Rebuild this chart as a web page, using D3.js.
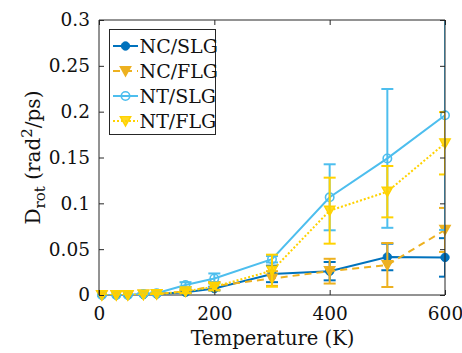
<!DOCTYPE html>
<html><head><meta charset="utf-8">
<script src="https://cdn.jsdelivr.net/npm/d3@7"></script>
<style>body{margin:0;background:#fff}svg{display:block}text{font-family:"DejaVu Serif",serif;fill:#111}</style>
</head><body><svg id="c" width="462" height="353"></svg>
<script>
const temps = [5, 30, 50, 77, 100, 150, 200, 300, 400, 500, 600];
const ncSlg = [0, 0, 0, 0.0005, 0.001, 0.003, 0.007, 0.023, 0.026, 0.0415, 0.041];
const ncSlgErr = [0, 0, 0, 0, 0.001, 0.001, 0.002, 0.009, 0.010, 0.0145, 0.021];
const ncFlg = [0, 0, 0, 0.0005, 0.001, 0.004, 0.0098, 0.018, 0.026, 0.0327, 0.071];
const ncFlgErr = [0, 0, 0, 0, 0.001, 0.002, 0.004, 0.008, 0.0135, 0.024, 0.024];
const ntSlg = [0, 0, 0, 0.001, 0.002, 0.011, 0.018, 0.039, 0.1066, 0.149, 0.196];
const ntSlgErr = [0, 0, 0, 0.001, 0.001, 0.003, 0.0055, 0.0035, 0.036, 0.0757, 0.125];
const ntFlg = [0, 0, 0, 0.0005, 0.001, 0.004, 0.009, 0.0265, 0.092, 0.1127, 0.1655];
const ntFlgErr = [0, 0, 0, 0, 0.001, 0.002, 0.004, 0.0175, 0.036, 0.028, 0.034];
const xTicks = [0, 200, 400, 600];
const yTicks = [0, 0.05, 0.1, 0.15, 0.2, 0.25, 0.3];
const yTickLabels = ["0", "0.05", "0.1", "0.15", "0.2", "0.25", "0.3"];
const seriesNames = ["NC/SLG", "NC/FLG", "NT/SLG", "NT/FLG"];
const seriesColors = ["#0072BD", "#EDB120", "#4DBEEE", "#FFD200"];

const series = [
  {name: seriesNames[0], vals: ncSlg, err: ncSlgErr, color: seriesColors[0], dash: null, marker: "circleFilled"},
  {name: seriesNames[1], vals: ncFlg, err: ncFlgErr, color: seriesColors[1], dash: "7,5", marker: "triFilled"},
  {name: seriesNames[2], vals: ntSlg, err: ntSlgErr, color: seriesColors[2], dash: null, marker: "circleOpen"},
  {name: seriesNames[3], vals: ntFlg, err: ntFlgErr, color: seriesColors[3], dash: "2,2", marker: "triOpen"}
];

const L = 99, R = 445, T = 20, B = 295;
const x = d3.scaleLinear().domain([0, 600]).range([L, R]);
const y = d3.scaleLinear().domain([0, 0.3]).range([B, T]);
const svg = d3.select("#c");
const FS = 18.5;

svg.append("defs").append("clipPath").attr("id", "clip")
  .append("rect").attr("x", L).attr("y", T).attr("width", R - L).attr("height", B - T);

function drawMarker(g, type, cx, cy, color) {
  if (type === "circleFilled") {
    g.append("circle").attr("cx", cx).attr("cy", cy).attr("r", 4.2).attr("fill", color).attr("stroke", color).attr("stroke-width", 1);
  } else if (type === "circleOpen") {
    g.append("circle").attr("cx", cx).attr("cy", cy).attr("r", 4.2).attr("fill", "none").attr("stroke", color).attr("stroke-width", 1.6);
  } else {
    const s = 5.2;
    const pts = [[cx - s, cy - s * 0.85], [cx + s, cy - s * 0.85], [cx, cy + s * 0.95]];
    g.append("path").attr("d", "M" + pts.map(p => p.join(",")).join("L") + "Z")
      .attr("fill", color)
      .attr("fill-opacity", type === "triFilled" ? 1 : 0.85)
      .attr("stroke", color).attr("stroke-width", 1.4).attr("stroke-linejoin", "miter");
  }
}

series.forEach(s => {
  const g = svg.append("g").attr("clip-path", "url(#clip)");
  temps.forEach((t, i) => {
    const e = s.err[i];
    if (e <= 0) return;
    const cx = x(t), y1 = y(s.vals[i] + e), y2 = y(s.vals[i] - e);
    g.append("line").attr("x1", cx).attr("x2", cx).attr("y1", y1).attr("y2", y2).attr("stroke", s.color).attr("stroke-width", 2);
    [y1, y2].forEach(yy => g.append("line").attr("x1", cx - 6).attr("x2", cx + 6).attr("y1", yy).attr("y2", yy).attr("stroke", s.color).attr("stroke-width", 2));
  });
  const line = d3.line().x((d, i) => x(temps[i])).y(d => y(d));
  g.append("path").datum(s.vals).attr("d", line).attr("fill", "none").attr("stroke", s.color)
    .attr("stroke-width", 2).attr("stroke-dasharray", s.dash);
  const gm = svg.append("g");
  temps.forEach((t, i) => drawMarker(gm, s.marker, x(t), y(s.vals[i]), s.color));
});

// axes box
const axisColor = "#262626";
svg.insert("rect", ":first-child").attr("x", L).attr("y", T).attr("width", R - L).attr("height", B - T)
  .attr("fill", "#fff");
svg.append("path").attr("d", `M${L},${B}V${T}H${R}V${B}`).attr("fill", "none").attr("stroke", axisColor).attr("stroke-width", 1);
svg.insert("line", ":nth-child(2)").attr("x1", L).attr("x2", R).attr("y1", B).attr("y2", B).attr("stroke", axisColor).attr("stroke-width", 1);

const xAxisB = d3.axisBottom(x).tickValues(xTicks).tickSize(-5).tickPadding(12).tickFormat(d3.format("d"));
const gx = svg.append("g").attr("transform", `translate(0,${B})`).call(xAxisB);
gx.select(".domain").remove();
gx.selectAll("line").attr("stroke", axisColor);
gx.selectAll("text").style("font-size", FS + "px").style("font-family", "DejaVu Serif").attr("fill", "#111");
const gxt = svg.append("g").attr("transform", `translate(0,${T})`).call(d3.axisTop(x).tickValues(xTicks).tickSize(-5).tickFormat(""));
gxt.select(".domain").remove(); gxt.selectAll("line").attr("stroke", axisColor);

const yAxisL = d3.axisLeft(y).tickValues(yTicks).tickSize(-5).tickPadding(9).tickFormat((d, i) => yTickLabels[i]);
const gy = svg.append("g").attr("transform", `translate(${L},0)`).call(yAxisL);
gy.select(".domain").remove();
gy.selectAll("line").attr("stroke", axisColor);
gy.selectAll("text").style("font-size", FS + "px").style("font-family", "DejaVu Serif").attr("fill", "#111");
const gyr = svg.append("g").attr("transform", `translate(${R},0)`).call(d3.axisRight(y).tickValues(yTicks).tickSize(-5).tickFormat(""));
gyr.select(".domain").remove(); gyr.selectAll("line").attr("stroke", axisColor);

// axis labels
svg.append("text").attr("x", (L + R) / 2 + 0.5).attr("y", 345).attr("text-anchor", "middle")
  .style("font-size", "19.5px").text("Temperature (K)");

const yl = svg.append("text").attr("transform", `translate(40,${(T + B) / 2}) rotate(-90)`)
  .attr("text-anchor", "middle").style("font-size", "20px");
yl.append("tspan").text("D");
yl.append("tspan").attr("dy", 5).style("font-size", "15px").text("rot");
yl.append("tspan").attr("dy", -5).text(" (rad");
yl.append("tspan").attr("dy", -8).style("font-size", "15px").text("2");
yl.append("tspan").attr("dy", 8).text("/ps)");

// legend
const lg = svg.append("g");
lg.append("rect").attr("x", 109.5).attr("y", 29.5).attr("width", 106).attr("height", 105)
  .attr("fill", "#fff").attr("stroke", axisColor).attr("stroke-width", 1);
series.forEach((s, i) => {
  const cy = 46 + i * 25;
  lg.append("line").attr("x1", 113).attr("x2", 138).attr("y1", cy).attr("y2", cy)
    .attr("stroke", s.color).attr("stroke-width", 2).attr("stroke-dasharray", s.dash);
  drawMarker(lg, s.marker, 125.5, cy, s.color);
  lg.append("text").attr("x", 139.5).attr("y", cy + 7).style("font-size", "19px").text(s.name);
});
</script></body></html>
